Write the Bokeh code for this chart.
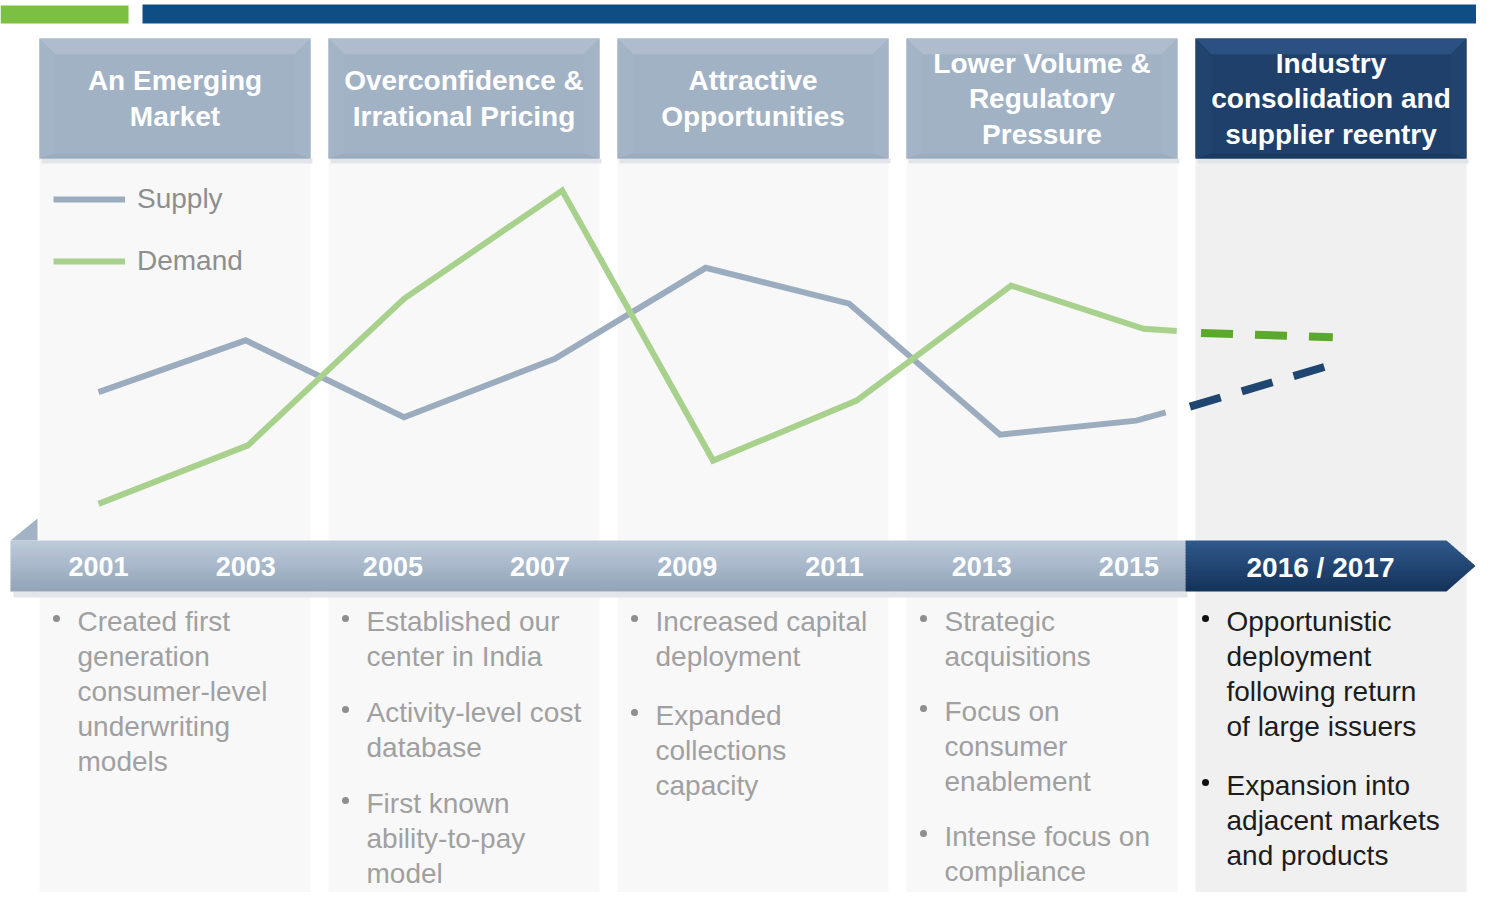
from bokeh.plotting import figure
from bokeh.models import Range1d, Legend, LegendItem
from bokeh.core.properties import value
from bokeh.embed import file_html
from bokeh.resources import INLINE

# ---------------- data ----------------
supply_years = [2001.0, 2003.0, 2005.15, 2007.2, 2009.25, 2011.2, 2013.25, 2015.1, 2015.5]
supply_index = [40.1, 54.1, 33.3, 49.1, 73.7, 64.0, 28.6, 32.4, 34.6]
demand_years = [2001.0, 2003.03, 2005.15, 2007.3, 2009.35, 2011.3, 2013.4, 2015.2, 2015.65]
demand_index = [9.9, 25.7, 65.3, 94.6, 21.6, 37.8, 68.9, 57.2, 56.6]
supply_outlook_years = [2015.83, 2017.69]
supply_outlook_index = [36.2, 47.1]
demand_outlook_years = [2015.98, 2017.77]
demand_outlook_index = [56.1, 54.9]

tick_years = [2001, 2003, 2005, 2007, 2009, 2011, 2013, 2015]
tick_labels = ["2001", "2003", "2005", "2007", "2009", "2011", "2013", "2015"]
outlook_label = "2016 / 2017"

phase_titles = [
    ["An Emerging", "Market"],
    ["Overconfidence &", "Irrational Pricing"],
    ["Attractive", "Opportunities"],
    ["Lower Volume &", "Regulatory", "Pressure"],
    ["Industry", "consolidation and", "supplier reentry"],
]
phase_bullets = [
    [["Created first", "generation", "consumer-level", "underwriting", "models"]],
    [["Established our", "center in India"],
     ["Activity-level cost", "database"],
     ["First known", "ability-to-pay", "model"]],
    [["Increased capital", "deployment"],
     ["Expanded", "collections", "capacity"]],
    [["Strategic", "acquisitions"],
     ["Focus on", "consumer", "enablement"],
     ["Intense focus on", "compliance"]],
    [["Opportunistic", "deployment", "following return", "of large issuers"],
     ["Expansion into", "adjacent markets", "and products"]],
]

# ---------------- layout / style ----------------
W, H, M = 1492, 908, 8
FW, FH = W - 2 * M, H - 2 * M
FONT = "Liberation Sans"
COL_LEFT0, COL_STEP, COL_W = 39, 289, 271
HEAD_TOP, HEAD_BOT = 38, 158
BAND_TOP, BAND_BOT = 540, 591
BAND_LEFT, DARK_LEFT, ARROW_SHOULDER, ARROW_TIP = 10, 1185, 1446, 1475
OUTLOOK_CX = 1320
X2001, PX_PER_YEAR = 98, 73.6
IDX0_Y, PX_PER_IDX = 540, 3.7
BODY_Y0, LINE_STEP = 621, 35.0
PARA_GAP = [24, 21, 24, 20, 24]

SUPPLY_C, DEMAND_C = "#9cacbf", "#a9d18e"
SUPPLY_F_C, DEMAND_F_C = "#1f4670", "#5ca82a"


def yr_at(px):
    return 2001 + (px - X2001) / PX_PER_YEAR


def idx_at(py):
    return (IDX0_Y - py) / PX_PER_IDX


def hx(c):
    c = c.lstrip("#")
    return [int(c[i:i + 2], 16) for i in (0, 2, 4)]


def mix(c1, c2, t):
    a, b = hx(c1), hx(c2)
    return "#%02x%02x%02x" % tuple(int(round(a[i] + (b[i] - a[i]) * t)) for i in range(3))


p = figure(width=FW, height=FH, output_backend="svg", toolbar_location=None,
           x_range=Range1d(0, FW), y_range=Range1d(FH, 0),
           x_axis_type=None, y_axis_type=None, min_border=0)
p.outline_line_color = None
p.background_fill_color = "white"
p.border_fill_color = "white"
p.grid.grid_line_color = None
p.extra_x_ranges = {"yr": Range1d(yr_at(0), yr_at(FW))}
p.extra_y_ranges = {"idx": Range1d(idx_at(FH), idx_at(0))}

# top bars
p.quad(left=[0, 142], right=[128, W], top=[5, 4], bottom=[23, 23],
       fill_color=["#7bbf43", "#0f4d85"], line_color=None)

col_left = [COL_LEFT0 + i * COL_STEP for i in range(5)]
col_right = [l + COL_W for l in col_left]

# column panels
p.quad(left=col_left, right=col_right, top=[HEAD_BOT] * 5, bottom=[H] * 5,
       fill_color=["#f8f8f8"] * 4 + ["#f0f0f0"], line_color=None)
# header shadows
p.quad(left=[l + 2 for l in col_left], right=[r + 2 for r in col_right],
       top=[HEAD_BOT] * 5, bottom=[HEAD_BOT + 5] * 5,
       fill_color="#e1e5ea", line_color=None)

# headers with soft bevel
D = 16
hxs, hys, hcols = [], [], []
for i in range(5):
    x0, x1, y0, y1 = col_left[i], col_right[i], HEAD_TOP, HEAD_BOT
    if i < 4:
        body, top, side, bot = "#a2b2c5", "#aebccd", "#a4b4c7", "#9cacbf"
    else:
        body, top, side, bot = "#1e406a", "#2b5182", "#21446e", "#1a3a61"
    hxs += [[x0, x1, x1, x0],
            [x0, x1, x1 - D, x0 + D],
            [x0, x0 + D, x0 + D, x0],
            [x1, x1 - D, x1 - D, x1],
            [x0, x1, x1 - D, x0 + D]]
    hys += [[y0, y0, y1, y1],
            [y0, y0, y0 + D, y0 + D],
            [y0, y0 + D, y1 - 5, y1],
            [y0, y0 + D, y1 - 5, y1],
            [y1, y1, y1 - 5, y1 - 5]]
    hcols += [body, top, side, side, bot]
p.patches(hxs, hys, fill_color=hcols, line_color=None)
p.quad(left=[l + D for l in col_left], right=[r - D for r in col_right],
       top=[HEAD_TOP + D] * 5, bottom=[HEAD_BOT - 5] * 5,
       fill_color=["#a2b2c5"] * 4 + ["#1e406a"], line_color=None)

# header titles
tx, ty, tt = [], [], []
for i, lines in enumerate(phase_titles):
    cx = (col_left[i] + col_right[i]) / 2
    cy = (HEAD_TOP + HEAD_BOT) / 2
    n = len(lines)
    for k, s in enumerate(lines):
        tx.append(cx)
        ty.append(cy + (k - (n - 1) / 2) * 35.5)
        tt.append(s)
p.text(x=tx, y=ty, text=tt, text_font=value(FONT), text_font_size="28px",
       text_font_style="bold", text_color="white", text_align="center", text_baseline="middle")

# data lines
r_s = p.line(supply_years, supply_index, x_range_name="yr", y_range_name="idx",
             line_color=SUPPLY_C, line_width=6, line_join="miter")
r_d = p.line(demand_years, demand_index, x_range_name="yr", y_range_name="idx",
             line_color=DEMAND_C, line_width=6, line_join="miter")
p.line(supply_outlook_years, supply_outlook_index, x_range_name="yr", y_range_name="idx",
       line_color=SUPPLY_F_C, line_width=8, line_dash="32 22")
p.line(demand_outlook_years, demand_outlook_index, x_range_name="yr", y_range_name="idx",
       line_color=DEMAND_F_C, line_width=8, line_dash="32 22")

# timeline band (gradient strips)
NS = 17
sh = (BAND_BOT - BAND_TOP) / NS
p.quad(left=[BAND_LEFT + 3], right=[DARK_LEFT + 2], top=[BAND_BOT], bottom=[BAND_BOT + 6],
       fill_color="#e2e5e9", line_color=None)
p.patches([[37, 37, BAND_LEFT]], [[518, BAND_TOP, BAND_TOP]], fill_color="#a3b2c4", line_color=None)
bl, br, bt, bb, bc = [], [], [], [], []
ax, ay, ac = [], [], []
mid = (BAND_TOP + BAND_BOT) / 2


def xr(y):
    if y <= mid:
        return ARROW_SHOULDER + (y - BAND_TOP) / (mid - BAND_TOP) * (ARROW_TIP - ARROW_SHOULDER)
    return ARROW_TIP - (y - mid) / (BAND_BOT - mid) * (ARROW_TIP - ARROW_SHOULDER)


for k in range(NS):
    ya, yb = BAND_TOP + k * sh, min(BAND_TOP + (k + 1) * sh + 0.6, BAND_BOT)
    t = k / (NS - 1)
    light = mix("#bccad9", "#93a4b9", t)
    dark = mix("#30588b", "#14335a", t)
    bl.append(BAND_LEFT); br.append(DARK_LEFT); bt.append(ya); bb.append(yb); bc.append(light)
    xs = [DARK_LEFT, xr(ya)]
    ys = [ya, ya]
    if ya < mid < yb:
        xs.append(ARROW_TIP); ys.append(mid)
    xs += [xr(yb), DARK_LEFT]
    ys += [yb, yb]
    ax.append(xs); ay.append(ys); ac.append(dark)
p.quad(left=bl, right=br, top=bt, bottom=bb, fill_color=bc, line_color=None)
p.patches(ax, ay, fill_color=ac, line_color=None)

# year labels
p.text(x=tick_years, y=[566] * len(tick_years), text=tick_labels, x_range_name="yr",
       text_font=value(FONT), text_font_size="27px", text_font_style="bold",
       text_color="white", text_align="center", text_baseline="middle")
p.text(x=[OUTLOOK_CX], y=[567], text=[outlook_label],
       text_font=value(FONT), text_font_size="28px", text_font_style="bold",
       text_color="white", text_align="center", text_baseline="middle")

# bullet texts
for i, bullets in enumerate(phase_bullets):
    dx = 31 if i == 4 else 38
    txt_x = col_left[i] + dx
    color = "#1c1c1c" if i == 4 else "#a0a0a0"
    bcolor = "#111111" if i == 4 else "#8e8e8e"
    y = BODY_Y0
    lx, ly, lt, bx, by = [], [], [], [], []
    for b in bullets:
        bx.append(txt_x - 21); by.append(y - 3)
        for s in b:
            lx.append(txt_x); ly.append(y); lt.append(s)
            y += LINE_STEP
        y += PARA_GAP[i]
    p.text(x=lx, y=ly, text=lt, text_font=value(FONT), text_font_size="28px",
           text_color=color, text_align="left", text_baseline="middle")
    p.scatter(x=bx, y=by, size=7, marker="circle", fill_color=bcolor, line_color=None)

# legend (screen-pixel placement)
GLYPH_H, GAP = 40, 22
leg_top = 199 - GLYPH_H / 2
legend = Legend(items=[LegendItem(label="Supply", renderers=[r_s]),
                       LegendItem(label="Demand", renderers=[r_d])],
                location=(53, round(FH - leg_top - (2 * GLYPH_H + GAP))),
                orientation="vertical",
                glyph_width=72, glyph_height=GLYPH_H, label_height=GLYPH_H, spacing=GAP,
                padding=0, margin=0, label_standoff=12,
                border_line_color=None, background_fill_alpha=0,
                label_text_font=FONT, label_text_font_size="28px",
                label_text_color="#8e8e8e")
p.add_layout(legend)

open("out.html", "w").write(file_html(p, INLINE))
